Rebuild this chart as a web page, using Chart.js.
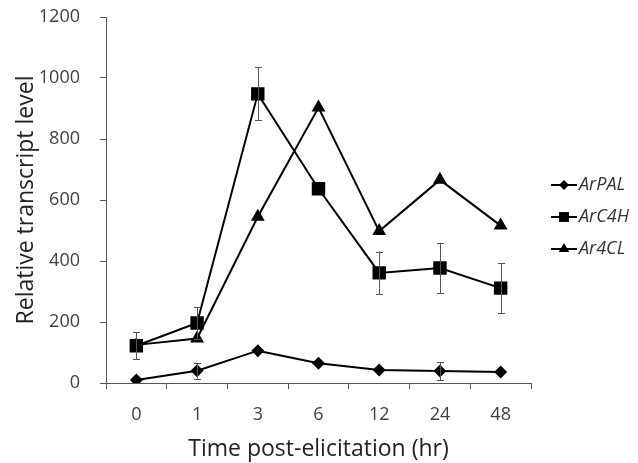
<!DOCTYPE html>
<html>
<head>
<meta charset="utf-8">
<script src="https://cdn.jsdelivr.net/npm/chart.js@4/dist/chart.umd.min.js"></script>
<style>
  html, body { margin: 0; padding: 0; background: #fff; }
  #wrap { width: 638px; height: 463px; }
</style>
</head>
<body>
<div id="wrap"><canvas id="grafico"></canvas></div>
<script>
const horas = ["0", "1", "3", "6", "12", "24", "48"];

const arPAL = [10, 40, 106, 65, 43, 39, 36];
const arPALErro = [0, 26, 0, 0, 0, 30, 0];

const arC4H = [122, 197, 948, 637, 361, 377, 311];
const arC4HErro = [44, 52, 87, 0, 70, 83, 82];

const ar4CL = [125, 146, 545, 903, 498, 666, 516];
const ar4CLErro = [0, 0, 0, 0, 0, 0, 0];

const yTicks = [0, 200, 400, 600, 800, 1000, 1200];

const fonte = "'Open Sans', 'Noto Sans', sans-serif";

// barras de erro
const barrasErro = {
  id: "barrasErro",
  afterDatasetsDraw(chart) {
    const ctx = chart.ctx;
    const y = chart.scales.y;
    ctx.save();
    ctx.strokeStyle = "#555";
    ctx.lineWidth = 1;
    chart.data.datasets.forEach((ds, i) => {
      const meta = chart.getDatasetMeta(i);
      meta.data.forEach((pt, j) => {
        const e = ds.erro[j];
        if (!e) return;
        const v = ds.data[j];
        const yt = y.getPixelForValue(v + e);
        const yb = y.getPixelForValue(v - e);
        const x = Math.round(pt.x) + 0.5;
        ctx.beginPath();
        ctx.moveTo(x, yt); ctx.lineTo(x, yb);
        ctx.moveTo(x - 3.5, Math.round(yt) + 0.5); ctx.lineTo(x + 3.5, Math.round(yt) + 0.5);
        ctx.moveTo(x - 3.5, Math.round(yb) + 0.5); ctx.lineTo(x + 3.5, Math.round(yb) + 0.5);
        ctx.stroke();
      });
    });
    ctx.restore();
  }
};

// legenda à direita
const legenda = {
  id: "legenda",
  afterDraw(chart) {
    const ctx = chart.ctx;
    const linhas = [185, 217, 249];
    ctx.save();
    chart.data.datasets.forEach((ds, i) => {
      const yy = linhas[i];
      ctx.strokeStyle = "#000";
      ctx.lineWidth = 2;
      ctx.beginPath();
      ctx.moveTo(551, yy); ctx.lineTo(577, yy);
      ctx.stroke();
      ctx.fillStyle = "#000";
      Chart.helpers.drawPoint(ctx, {
        pointStyle: ds.pointStyle,
        radius: ds.legendRadius,
        borderWidth: 0
      }, 564, yy);
      ctx.fillStyle = "#333";
      ctx.font = "italic 18px " + fonte;
      ctx.textBaseline = "middle";
      ctx.textAlign = "left";
      ctx.fillText(ds.label, 579, yy);
    });
    ctx.restore();
  }
};

const ctx = document.getElementById("grafico").getContext("2d");
new Chart(ctx, {
  type: "line",
  data: {
    labels: horas,
    datasets: [
      {
        label: "ArPAL",
        data: arPAL,
        erro: arPALErro,
        borderColor: "#000",
        backgroundColor: "#000",
        borderWidth: 2,
        pointStyle: "rectRot",
        pointRadius: 6.5,
        legendRadius: 5,
        pointBorderWidth: 0
      },
      {
        label: "ArC4H",
        data: arC4H,
        erro: arC4HErro,
        borderColor: "#000",
        backgroundColor: "#000",
        borderWidth: 2,
        pointStyle: "rect",
        pointRadius: 9.5,
        legendRadius: 7,
        pointBorderWidth: 0
      },
      {
        label: "Ar4CL",
        data: ar4CL,
        erro: ar4CLErro,
        borderColor: "#000",
        backgroundColor: "#000",
        borderWidth: 2,
        pointStyle: "triangle",
        pointRadius: 8,
        legendRadius: 6,
        pointBorderWidth: 0
      }
    ]
  },
  options: {
    responsive: true,
    maintainAspectRatio: false,
    animation: false,
    layout: { padding: { top: 17, right: 107, left: 0, bottom: 0 } },
    plugins: {
      legend: { display: false },
      tooltip: { enabled: false }
    },
    scales: {
      x: {
        offset: true,
        grid: {
          display: true,
          drawOnChartArea: false,
          drawTicks: true,
          tickLength: 6,
          tickColor: "#555",
          offset: true
        },
        border: { color: "#555", width: 1 },
        ticks: {
          color: "#404040",
          font: { family: fonte, size: 18 },
          padding: 15,
          maxRotation: 0
        },
        title: {
          display: true,
          text: "Time post-elicitation (hr)",
          color: "#222",
          font: { family: fonte, size: 23 },
          padding: { top: 0, bottom: 0 }
        },
        afterFit(s) { s.height = 80; s.paddingLeft = 0; s.paddingRight = 0; }
      },
      y: {
        min: 0,
        max: 1200,
        afterBuildTicks(s) { s.ticks = yTicks.map(v => ({ value: v })); },
        grid: {
          display: true,
          drawOnChartArea: false,
          drawTicks: true,
          tickLength: 6,
          tickColor: "#555"
        },
        border: { color: "#555", width: 1 },
        ticks: {
          color: "#404040",
          font: { family: fonte, size: 18 },
          padding: 20,
          callback: v => String(v)
        },
        title: {
          display: true,
          text: "Relative transcript level",
          color: "#222",
          font: { family: fonte, size: 23 },
          padding: { top: 13, bottom: 0 }
        },
        afterFit(s) { s.width = 106; s.paddingTop = 0; s.paddingBottom = 0; }
      }
    }
  },
  plugins: [barrasErro, legenda]
});
</script>
</body>
</html>
